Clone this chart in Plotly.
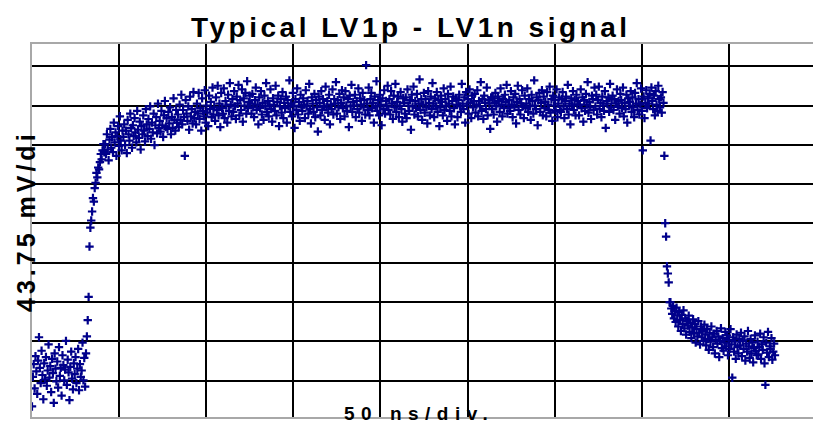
import numpy as np
import plotly.graph_objects as go

# ---------------- data (time in ns, amplitude in mV) ----------------
NS_PER_DIV = 50
MV_PER_DIV = 43.75

title_text = "Typical LV1p - LV1n signal"
x_label = "50 ns/div."
y_label = "43.75 mV/di"

# baseline before the edge
baseline_t = (0.0, 31.5)
baseline_mv = [15, 48, 62, 35, 71, 54, 29, 66, 92, 58, 41, 77, 50, 23, 63, 45,
               70, 38, 55, 84, 47, 60, 31, 68, 52, 19, 74, 57, 43, 65, 36, 81,
               49, 58, 27, 72, 61, 44, 56, 88, 39, 67, 53, 22, 59, 76, 46, 34,
               63, 51, 70, 41, 57, 79, 33, 62, 48, 55, 86, 44, 69, 37, 74, 93]

# rising edge
rise_t = (32.0, 41.5)
rise_mv = [111, 137, 193, 214, 222, 232, 247, 243, 258, 264,
           275, 270, 281, 279, 287, 296, 290, 300, 307, 298]

# settling
settle_t = (42.0, 125.0)
settle_mv = [307, 296, 318, 301, 289, 312, 324, 303, 315, 298, 331, 309, 320, 294, 316, 327, 305, 338, 311, 300, 322,
             315, 329, 306, 322, 297, 334, 318, 311, 341, 325, 303, 328, 316, 336, 320, 309, 344, 323, 314, 332, 301,
             327, 318, 339, 322, 310, 346, 329, 316, 335, 324, 349, 313, 331, 320, 341, 306, 328, 337, 319, 352, 325,
             333, 321, 344, 328, 315, 339, 355, 326, 336, 324, 343, 330, 348, 318, 337, 325, 358, 334, 322, 345, 331,
             340, 326, 351, 334, 362, 329, 345, 337, 294, 356, 341, 333, 349, 323, 360, 338, 346, 330, 365, 336, 343,
             329, 352, 341, 364, 335, 347, 322, 358, 344, 338, 367, 331, 350, 342, 327, 361, 346, 354, 337, 370, 340,
             348, 333, 359, 345, 372, 339, 352, 326, 364, 347, 341, 369, 336, 355, 350, 331, 362, 344, 375, 351, 338,
             357, 343, 366, 349, 335, 360, 352, 373, 339, 356, 345, 368, 332, 358, 350, 364, 341, 377, 347, 354, 361]

# flat top
top_t = (125.5, 362.5)
top_mv = [352, 341, 363, 348, 337, 356, 370, 345, 351, 329, 359, 347, 366, 340, 353, 334, 361, 349, 375, 343,
          355, 338, 350, 368, 346, 332, 358, 351, 344, 372, 339, 354, 361, 327, 349, 357, 342, 365, 336, 353,
          347, 360, 331, 356, 349, 378, 343, 352, 338, 364, 350, 325, 357, 345, 369, 340, 354, 333, 362, 348,
          344, 358, 351, 336, 367, 349, 355, 341, 374, 346, 330, 359, 352, 343, 363, 337, 356, 348, 321, 360,
          353, 339, 366, 345, 357, 350, 334, 371, 348, 355, 342, 362, 329, 351, 346, 368, 340, 357, 352, 376,
          341, 356, 348, 363, 335, 353, 367, 347, 359, 338, 366, 350, 344, 357, 326, 361, 349, 373, 343, 354,
          350, 362, 337, 355, 346, 369, 342, 358, 351, 333, 364, 348, 356, 340, 395, 352, 345, 370, 339, 357,
          364, 347, 353, 331, 360, 349, 377, 344, 356, 339, 362, 351, 328, 358, 346, 367, 341, 355, 349, 372,
          345, 357, 340, 366, 352, 335, 361, 348, 374, 343, 354, 360, 337, 350, 365, 346, 332, 358, 353, 341,
          359, 336, 368, 350, 344, 356, 323, 362, 349, 371, 340, 355, 347, 363, 338, 352, 379, 345, 357, 334,
          351, 364, 342, 357, 348, 330, 366, 353, 339, 360, 346, 375, 352, 337, 358, 349, 365, 343, 356, 327,
          348, 361, 354, 339, 369, 345, 357, 350, 333, 363, 352, 344, 371, 338, 355, 360, 347, 329, 358, 351,
          337, 356, 362, 349, 343, 374, 352, 346, 359, 331, 365, 350, 357, 341, 368, 353, 336, 361, 348, 355,
          363, 342, 351, 367, 338, 355, 349, 376, 344, 357, 335, 361, 353, 346, 370, 339, 356, 352, 324, 359,
          346, 358, 340, 353, 364, 349, 332, 360, 355, 343, 369, 351, 338, 357, 347, 362, 354, 373, 341, 350,
          356, 344, 366, 351, 337, 359, 348, 363, 330, 354, 372, 345, 357, 340, 352, 367, 349, 336, 361, 347,
          352, 369, 343, 357, 349, 334, 362, 355, 341, 378, 350, 346, 359, 328, 356, 364, 343, 353, 367, 339,
          360, 347, 354, 338, 365, 351, 345, 371, 342, 357, 333, 361, 350, 356, 344, 368, 337, 352, 359, 345,
          343, 357, 365, 349, 336, 355, 360, 346, 373, 340, 352, 329, 358, 350, 366, 345, 356, 339, 362, 351,
          355, 339, 351, 368, 347, 359, 332, 356, 344, 363, 351, 376, 342, 354, 348, 335, 361, 357, 345, 370,
          349, 362, 340, 356, 371, 346, 353, 337, 360, 350, 344, 366, 325, 355, 352, 359, 343, 374, 348, 357,
          361, 345, 357, 334, 352, 368, 349, 355, 341, 363, 356, 347, 370, 338, 353, 346, 362, 331, 358, 350,
          354, 366, 343, 359, 348, 337, 364, 352, 375, 345, 357, 340, 351, 369, 344, 300, 360, 336, 353, 367,
          347, 358, 352, 363, 311, 370, 355, 346, 361, 339, 366, 351, 344, 372, 357, 348, 359, 342, 365, 353]

# falling edge
fall_t = (363.0, 366.0)
fall_mv = [294, 219, 204, 171, 163, 153, 131]

# tail after the edge
tail_t = (366.5, 426.5)
tail_mv = [131, 124, 118, 127, 113, 121, 109, 125, 116, 104, 120, 111, 99, 117, 107, 122, 102, 113, 95, 110,
           105, 116, 98, 108, 91, 103, 112, 96, 107, 86, 101, 93, 110, 97, 84, 104, 92, 99, 88, 106,
           95, 83, 101, 90, 78, 97, 87, 104, 92, 81, 96, 74, 89, 99, 85, 93, 70, 88, 102, 80,
           91, 77, 86, 98, 82, 94, 72, 89, 79, 101, 84, 47, 92, 76, 87, 68, 95, 81, 74, 90,
           83, 97, 71, 88, 79, 93, 66, 85, 76, 99, 82, 69, 90, 74, 86, 64, 80, 94, 77, 72,
           87, 73, 81, 96, 68, 84, 78, 92, 63, 39, 86, 75, 98, 70, 82, 79, 91, 67, 76, 85, 72]

segments = [(baseline_t, baseline_mv), (rise_t, rise_mv), (settle_t, settle_mv),
            (top_t, top_mv), (fall_t, fall_mv), (tail_t, tail_mv)]

t_ns = np.concatenate([np.linspace(a, b, len(v)) for (a, b), v in segments])
v_mv = np.concatenate([np.asarray(v, dtype=float) for _, v in segments])

# ---------------- figure ----------------
W, H = 813, 426
PLOT_LEFT, PLOT_TOP, PLOT_BOTTOM = 32, 44, 417          # page pixels
ML, MT, MR = PLOT_LEFT, PLOT_TOP, 0
MB = H - PLOT_BOTTOM
plot_w = W - ML - MR
plot_h = H - MT - MB
px_per_div_x = 87.1
px_per_div_y = 39.3

x_max = plot_w / px_per_div_x * NS_PER_DIV
y_min = 0.074 * MV_PER_DIV
y_max = y_min + plot_h / px_per_div_y * MV_PER_DIV


def px_x(px):  # page pixel -> paper x
    return (px - ML) / plot_w


def px_y(py):  # page pixel -> paper y
    return (H - MB - py) / plot_h


fig = go.Figure()
fig.add_trace(go.Scatter(
    x=t_ns, y=v_mv, mode="markers",
    marker=dict(symbol="cross-thin", size=6, color="#00008B",
                line=dict(width=2.2, color="#00008B")),
    hoverinfo="skip", showlegend=False,
))

FONT = "Liberation Sans, Arial, sans-serif"

fig.update_layout(
    width=W, height=H,
    margin=dict(l=ML, r=MR, t=MT, b=MB, pad=0),
    paper_bgcolor="white", plot_bgcolor="white",
    showlegend=False,
    xaxis=dict(range=[0, x_max], tick0=0, dtick=NS_PER_DIV, showticklabels=False,
               ticks="", showgrid=True, gridcolor="#000000", gridwidth=2,
               zeroline=False, showline=True, linecolor="#a8a8a8", linewidth=2,
               mirror=True, fixedrange=True),
    yaxis=dict(range=[y_min, y_max], tick0=0, dtick=MV_PER_DIV, showticklabels=False,
               ticks="", showgrid=True, gridcolor="#000000", gridwidth=2,
               zeroline=False, showline=True, linecolor="#a8a8a8", linewidth=2,
               mirror=False, fixedrange=True),
    annotations=[
        dict(text='<b><span style="letter-spacing:3.5px">' + title_text + '</span></b>',
             xref="paper", yref="paper", x=px_x(411), y=px_y(28),
             xanchor="center", yanchor="middle", showarrow=False,
             font=dict(family=FONT, size=28, color="black")),
        dict(text='<b><span style="letter-spacing:4px">' + y_label + '</span></b>',
             xref="paper", yref="paper", x=px_x(26), y=px_y(221),
             xanchor="center", yanchor="middle", textangle=-90, showarrow=False,
             font=dict(family=FONT, size=25, color="black")),
        dict(text='<b><span style="letter-spacing:6.5px">' + x_label + '</span></b>',
             xref="paper", yref="paper", x=px_x(419), y=px_y(413),
             xanchor="center", yanchor="middle", showarrow=False,
             font=dict(family=FONT, size=19, color="black")),
    ],
)

fig.write_html(
    "out.html",
    config={"displayModeBar": False, "staticPlot": True},
    post_script=("document.documentElement.style.overflow='hidden';"
                 "document.body.style.margin='0';"
                 "document.body.style.overflow='hidden';"),
)
